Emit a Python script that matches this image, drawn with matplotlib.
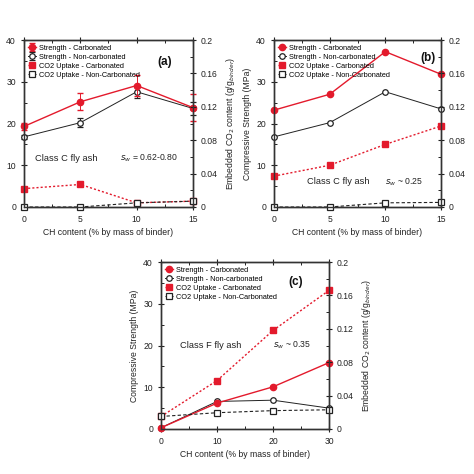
import numpy as np
import matplotlib.pyplot as plt
from matplotlib.ticker import MultipleLocator

plt.rcParams['font.family'] = ['Liberation Sans', 'DejaVu Sans']

# CH content (% by mass of binder)
ch_c = [0, 5, 10, 15]
ch_f = [0, 10, 20, 30]

# panel (a) Class C, s_w = 0.62-0.80
a_str_carb = [19.3, 25.2, 29.1, 23.8]
a_err_carb = [0.8, 2.0, 2.6, 3.2]
a_str_non = [16.8, 20.2, 27.6, 23.6]
a_err_non = [0.5, 1.0, 1.5, 1.6]
a_co2_carb = [0.022, 0.027, 0.005, 0.007]
a_co2_non = [0.0, 0.0, 0.005, 0.007]

# panel (b) Class C, s_w ~ 0.25
b_str_carb = [23.2, 27.0, 37.2, 31.8]
b_str_non = [16.8, 20.2, 27.6, 23.5]
b_co2_carb = [0.037, 0.050, 0.075, 0.097]
b_co2_non = [0.0, 0.0, 0.005, 0.0055]

# panel (c) Class F, s_w ~ 0.35
c_str_carb = [0.3, 6.2, 10.1, 15.9]
c_str_non = [0.3, 6.6, 6.9, 5.0]
c_co2_carb = [0.015, 0.058, 0.118, 0.166]
c_co2_non = [0.015, 0.0195, 0.022, 0.023]

RED = '#e31a2c'
FS = 6.2


def panel(rect, x, s_carb, s_non, c_carb, c_non, tag, tagpos, cls, clspos, sw, swx,
          xmax, xmajor, xminor, e_carb=None, e_non=None, left_label=True, right_label=True):
    ax = fig.add_axes(rect)
    ax2 = ax.twinx()
    ax.errorbar(x, s_carb, yerr=e_carb, color=RED, marker='o', ms=4.5, lw=1.0,
                capsize=2, elinewidth=0.7, label='Strength - Carbonated', clip_on=False, zorder=4)
    ax.errorbar(x, s_non, yerr=e_non, color='#222222', marker='o', ms=4, mfc='white',
                mew=0.9, lw=0.7, capsize=2, elinewidth=0.7,
                label='Strength - Non-carbonated', clip_on=False, zorder=3)
    ax2.plot(x, c_carb, color=RED, ls=(0, (1.5, 1.5)), marker='s', ms=4, lw=1.0,
             label='CO2 Uptake - Carbonated', clip_on=False)
    ax2.plot(x, c_non, color='#222222', ls=(0, (3, 2)), marker='s', ms=3.8, mfc='white',
             mew=0.9, lw=0.8, label='CO2 Uptake - Non-Carbonated', clip_on=False)

    ax.set_xlim(0, xmax)
    ax.set_ylim(0, 40)
    ax2.set_ylim(0, 0.2)
    ax.xaxis.set_major_locator(MultipleLocator(xmajor))
    ax.xaxis.set_minor_locator(MultipleLocator(xminor))
    ax.yaxis.set_major_locator(MultipleLocator(10))
    ax.yaxis.set_minor_locator(MultipleLocator(5))
    ax2.yaxis.set_major_locator(MultipleLocator(0.04))
    ax2.yaxis.set_minor_locator(MultipleLocator(0.02))
    ax2.set_yticklabels(['0' if v == 0 else f'{v:g}' for v in ax2.get_yticks()])
    for a in (ax, ax2):
        a.tick_params(which='major', direction='inout', length=4.5, width=0.8,
                      labelsize=FS, colors='#222222', top=True)
        a.tick_params(which='minor', direction='in', length=2, width=0.6, top=True)
        for sp in a.spines.values():
            sp.set_linewidth(1.0)
            sp.set_color('#333333')
    ax.set_xlabel('CH content (% by mass of binder)', fontsize=FS, color='#222222', labelpad=3)
    if left_label:
        ax.set_ylabel('Compressive Strength (MPa)', fontsize=FS, color='#222222', labelpad=3)
    if right_label:
        ax2.set_ylabel('Embedded CO$_2$ content (g/g$_{binder}$)', fontsize=FS,
                       color='#222222', labelpad=4)

    h1, l1 = ax.get_legend_handles_labels()
    h2, l2 = ax2.get_legend_handles_labels()
    ax2.legend(h1 + h2, l1 + l2, loc='upper left', frameon=False, fontsize=5.3,
               handlelength=1.0, handletextpad=0.4, labelspacing=0.25,
               borderaxespad=0.2, bbox_to_anchor=(0.0, 1.0))
    ax2.text(tagpos[0], tagpos[1], tag, transform=ax.transAxes, fontsize=8.5,
             fontweight='bold', ha='center', va='center', color='#111111')
    ax2.text(clspos[0], clspos[1], cls, transform=ax.transAxes, fontsize=FS + 0.5,
             ha='left', va='center', color='#222222')
    ax2.text(swx, clspos[1], sw, transform=ax.transAxes, fontsize=FS,
             ha='left', va='center', color='#222222')
    return ax, ax2


fig = plt.figure(figsize=(4.74, 4.74), dpi=100)

# left label of (a) and right label of (b) fall outside the cropped figure in the reference
panel([24/474, 267/474, 169/474, 167/474], ch_c, a_str_carb, a_str_non, a_co2_carb, a_co2_non,
      '(a)', (0.83, 0.87), 'Class C fly ash', (0.065, 0.29), '$s_w$ = 0.62-0.80', 0.57,
      15, 5, 2.5, e_carb=a_err_carb, e_non=a_err_non, left_label=False)
panel([274/474, 267/474, 167/474, 167/474], ch_c, b_str_carb, b_str_non, b_co2_carb, b_co2_non,
      '(b)', (0.92, 0.89), 'Class C fly ash', (0.2, 0.15), '$s_w$ ~ 0.25', 0.665,
      15, 5, 2.5, right_label=False)
panel([161/474, 45/474, 168/474, 167/474], ch_f, c_str_carb, c_str_non, c_co2_carb, c_co2_non,
      '(c)', (0.80, 0.88), 'Class F fly ash', (0.113, 0.5), '$s_w$ ~ 0.35', 0.667,
      30, 10, 5)

fig.savefig('out.png', dpi=100)
